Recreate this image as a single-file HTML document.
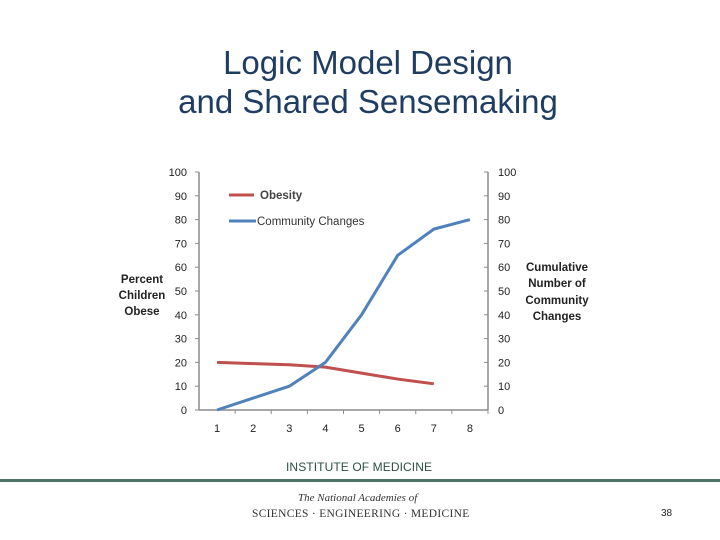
<!DOCTYPE html>
<html><head><meta charset="utf-8"><style>
body{margin:0;width:720px;height:540px;background:#fff;overflow:hidden;font-family:"Liberation Sans",sans-serif}
#title{position:absolute;left:0;width:736px;top:43px;text-align:center;font-size:33px;line-height:39px;color:#1f3d63}
</style></head><body>
<div id="title">Logic Model Design<br>and Shared Sensemaking</div>
<svg id="chart" width="720" height="540" style="position:absolute;left:0;top:0"></svg>
<div style="position:absolute;left:286px;top:460px;font-size:12px;color:#2f4f47;letter-spacing:0.1px">INSTITUTE OF MEDICINE</div>
<div style="position:absolute;left:0;top:479px;width:720px;height:3px;background:#4f7566"></div>
<div style="position:absolute;left:298px;top:492px;font-family:'Liberation Serif',serif;font-style:italic;font-size:11px;color:#333">The National Academies of</div>
<div style="position:absolute;left:252px;top:508px;font-family:'Liberation Serif',serif;font-size:11.5px;color:#333;letter-spacing:0.3px">SCIENCES · ENGINEERING · MEDICINE</div>
<div style="position:absolute;left:661px;top:508px;font-size:10px;color:#222">38</div>
<script>
const categories=[1,2,3,4,5,6,7,8];
const obesity=[20,19.5,19,18,15.5,13,11];
const community=[0,5,10,20,40,65,76,80];
const yTicks=[0,10,20,30,40,50,60,70,80,90,100];
const svg=document.getElementById('chart');
const NS='http://www.w3.org/2000/svg';
const L=199,R=488,T=172,B=410;
const bw=(R-L)/categories.length;
const x=i=>L+bw*(i+0.5);
const y=v=>B-(v/100)*(B-T);
function mk(t,a){const e=document.createElementNS(NS,t);for(const k in a)e.setAttribute(k,a[k]);svg.appendChild(e);return e;}
const ax='#8c8c8c';
let e=mk('line',{x1:L,y1:T,x2:L,y2:B,stroke:ax,'stroke-width':1.5});

e=mk('line',{x1:R,y1:T,x2:R,y2:B,stroke:ax,'stroke-width':1.5});

e=mk('line',{x1:L,y1:B,x2:R,y2:B,stroke:ax,'stroke-width':1.5});

yTicks.forEach(v=>{
 mk('line',{x1:L-4,y1:y(v),x2:L,y2:y(v),stroke:ax});
 mk('line',{x1:R-4,y1:y(v),x2:R,y2:y(v),stroke:ax});
 e=mk('text',{x:L-12,y:y(v)+4,'text-anchor':'end','font-size':11,fill:'#222'});e.textContent=v;
 
 e=mk('text',{x:R+10,y:y(v)+4,'font-size':11,fill:'#222'});e.textContent=v;
 
});
categories.forEach((c,i)=>{
 mk('line',{x1:L+bw*(i+1),y1:B,x2:L+bw*(i+1),y2:B+4,stroke:ax});
 e=mk('text',{x:x(i),y:B+22,'text-anchor':'middle','font-size':11,fill:'#222'});e.textContent=c;
 
});
function line(data,col,name){
 e=mk('polyline',{points:data.map((v,i)=>x(i)+','+y(v)).join(' '),fill:'none',stroke:col,'stroke-width':3,'stroke-linejoin':'round'});
 
}
line(obesity,'#c0504d','obesity-line');
line(community,'#4f81bd','community-changes-line');
e=mk('line',{x1:229,y1:195,x2:254,y2:195,stroke:'#c0504d','stroke-width':3});

e=mk('text',{x:260,y:199,'font-size':11.5,fill:'#444','font-weight':'bold'});e.textContent='Obesity';

e=mk('line',{x1:229,y1:221,x2:256,y2:221,stroke:'#4f81bd','stroke-width':3});

e=mk('text',{x:257,y:225,'font-size':11.5,fill:'#333'});e.textContent='Community Changes';

[['Percent',283],['Children',299],['Obese',315]].forEach(([t,yy])=>{e=mk('text',{x:142,y:yy,'text-anchor':'middle','font-size':11.5,'font-weight':'bold',fill:'#222'});e.textContent=t;
});
[['Cumulative',271],['Number of',287],['Community',304],['Changes',320]].forEach(([t,yy])=>{e=mk('text',{x:557,y:yy,'text-anchor':'middle','font-size':11.5,'font-weight':'bold',fill:'#222'});e.textContent=t;
});
</script>
</body></html>
